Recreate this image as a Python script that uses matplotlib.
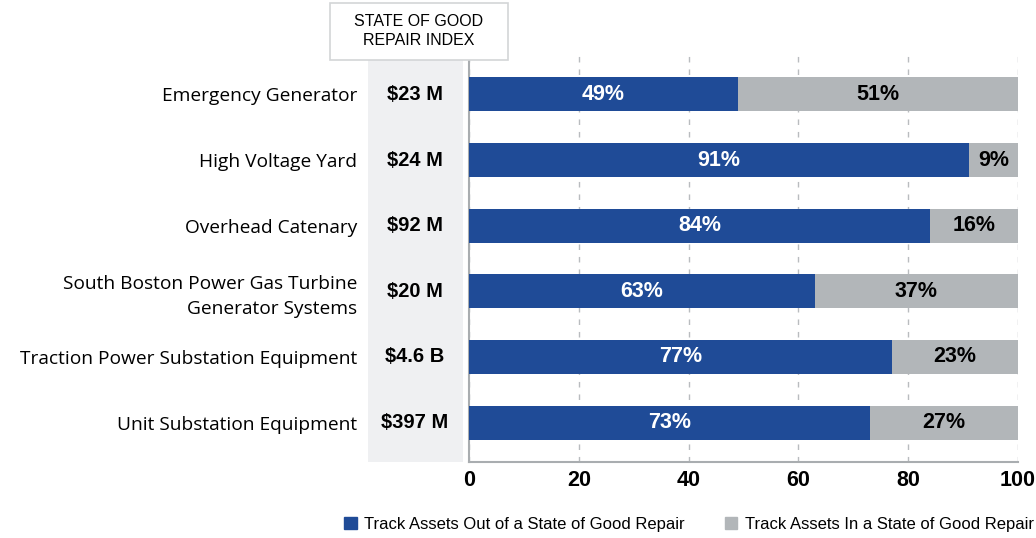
import matplotlib
matplotlib.use("Agg")
import matplotlib.pyplot as plt
from matplotlib.patches import Rectangle
import numpy as np

# Datos
categorias = [
    "Emergency Generator",
    "High Voltage Yard",
    "Overhead Catenary",
    "South Boston Power Gas Turbine\nGenerator Systems",
    "Traction Power Substation Equipment",
    "Unit Substation Equipment",
]
indice_sgr = ["$23 M", "$24 M", "$92 M", "$20 M", "$4.6 B", "$397 M"]
fuera_sgr = [49, 91, 84, 63, 77, 73]
dentro_sgr = [51, 9, 16, 37, 23, 27]
ticks_x = [0, 20, 40, 60, 80, 100]

azul = "#1f4b97"
gris = "#b2b6b9"
fondo_col = "#eff0f2"
narrow = ["Liberation Sans", "DejaVu Sans"]
normal = ["Open Sans", "DejaVu Sans"]

fig = plt.figure(figsize=(10.36, 5.38), dpi=100)
ax = fig.add_axes([0.4527, 0.1413, 0.9826 - 0.4527, 0.8978 - 0.1413])

y = np.arange(len(categorias))
ax.barh(y, fuera_sgr, height=0.52, color=azul, zorder=3)
ax.barh(y, dentro_sgr, left=fuera_sgr, height=0.52, color=gris, zorder=3)

# Etiquetas de porcentaje
for i in range(len(categorias)):
    ax.text(fuera_sgr[i] / 2, y[i], f"{fuera_sgr[i]}%", color="white",
            ha="center", va="center", fontsize=15.5, fontweight="bold",
            family=narrow, zorder=4)
    ax.text(fuera_sgr[i] + dentro_sgr[i] / 2, y[i], f"{dentro_sgr[i]}%",
            color="black", ha="center", va="center", fontsize=15.5,
            fontweight="bold", family=narrow, zorder=4)

ax.set_xlim(0, 100)
ax.set_ylim(len(categorias) - 0.4, -0.6)
ax.set_xticks(ticks_x)
ax.set_xticklabels([str(t) for t in ticks_x], fontsize=15.5, fontweight="bold",
                   family=narrow)
ax.tick_params(axis="x", length=0, pad=6)
ax.tick_params(axis="y", length=0, pad=80.5)
ax.set_yticks(y)
ax.set_yticklabels(categorias, fontsize=13.8, family=normal, linespacing=1.45)
for lab in ax.get_yticklabels():
    lab.set_multialignment("right")

ax.grid(axis="x", color="#b9bcbf", linestyle=(0, (4, 5)), linewidth=1, zorder=0)
for s in ["top", "right"]:
    ax.spines[s].set_visible(False)
for s in ["left", "bottom"]:
    ax.spines[s].set_color("#a9adb0")
    ax.spines[s].set_linewidth(1.5)

# Columna del indice
W, H = 1036, 538
fig.patches.append(Rectangle((368 / W, 1 - 462 / H), 95 / W, 402 / H,
                             transform=fig.transFigure, facecolor=fondo_col,
                             edgecolor="none", zorder=0))
for i, txt in enumerate(indice_sgr):
    ypix = ax.transData.transform((0, y[i]))[1]
    fig.text(415 / W, ypix / H, txt, ha="center", va="center",
             fontsize=14.5, fontweight="bold", family=narrow)

fig.patches.append(Rectangle((330 / W, 1 - 60 / H), 178 / W, 57 / H,
                             transform=fig.transFigure, facecolor="white",
                             edgecolor="#d3d5d7", linewidth=1.2, zorder=1))
fig.text(419 / W, 1 - 31 / H, "STATE OF GOOD\nREPAIR INDEX", ha="center",
         va="center", fontsize=11.5, family=narrow, linespacing=1.3)

# Leyenda
ley = [Rectangle((0, 0), 1, 1, color=azul), Rectangle((0, 0), 1, 1, color=gris)]
fig.legend(ley, ["Track Assets Out of a State of Good Repair",
                 "Track Assets In a State of Good Repair"],
           loc="center", bbox_to_anchor=(689 / W, 1 - 524 / H), ncol=2,
           frameon=False, prop={"family": narrow, "size": 12},
           handlelength=0.75, handleheight=0.75, handletextpad=0.45,
           columnspacing=2.4)

fig.savefig("out.png", dpi=100)
